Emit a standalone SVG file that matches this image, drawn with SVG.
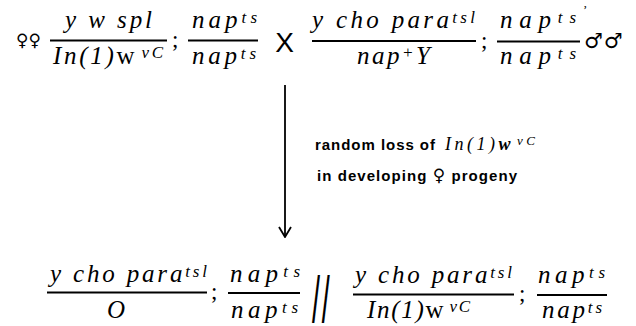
<svg xmlns="http://www.w3.org/2000/svg" width="636" height="326" viewBox="0 0 636 326">
<defs>
<style>
.it{font-family:"Liberation Serif",serif;font-style:italic;font-size:25px;fill:#000}
.rm{font-style:normal}
.sup{font-size:17px}
.fl{stroke:#000;stroke-width:1.8;fill:none}
.sym{font-family:"DejaVu Sans",sans-serif;font-size:17px;fill:#000}
.semi{font-family:"Liberation Serif",serif;font-size:23px;fill:#000}
.lab{font-family:"Liberation Sans","DejaVu Sans",sans-serif;font-weight:bold;font-size:15px;fill:#000}
.labi{font-family:"Liberation Serif",serif;font-style:italic;font-size:18px;fill:#000}
</style>
<marker id="ah" viewBox="0 0 12 14" refX="11" refY="7" markerWidth="12" markerHeight="14" markerUnits="userSpaceOnUse" orient="auto">
<path d="M1,1 L11,7 L1,13" fill="none" stroke="#000" stroke-width="1.8"/>
</marker>
</defs>
<rect width="636" height="326" fill="#fff"/>

<g id="female">
<text class="sym" x="16" y="46">♀♀</text>
<text class="it" x="65" y="28" textLength="87" lengthAdjust="spacing">y w spl</text>
<line class="fl" x1="50" y1="40.5" x2="167" y2="40.5"/>
<text class="it" x="53" y="64" textLength="110" lengthAdjust="spacing">In(1)<tspan class="rm">w</tspan><tspan class="sup" dx="4" dy="-6">vC</tspan></text>
<text class="semi" x="172" y="47">;</text>
<text class="it" x="192" y="28" textLength="65" lengthAdjust="spacing">nap<tspan class="sup" dy="-5">ts</tspan></text>
<line class="fl" x1="188" y1="40.5" x2="258" y2="40.5"/>
<text class="it" x="192" y="64" textLength="64" lengthAdjust="spacing">nap<tspan class="sup" dy="-5">ts</tspan></text>
</g>

<g id="cross">
<text x="284.5" y="52" text-anchor="middle" font-family="Liberation Sans,sans-serif" font-size="28" fill="#000">X</text>
</g>

<g id="male">
<text class="it" x="312" y="28" textLength="163" lengthAdjust="spacing">y cho para<tspan class="sup" dy="-5">tsl</tspan></text>
<line class="fl" x1="312" y1="41" x2="476" y2="41"/>
<text class="it" x="357" y="64" textLength="73" lengthAdjust="spacing">nap<tspan class="sup" dy="-6">+</tspan><tspan dy="6">Y</tspan></text>
<text class="semi" x="481" y="48">;</text>
<text class="it" x="500" y="28" textLength="76" lengthAdjust="spacing">nap<tspan class="sup" dy="-5">ts</tspan></text>
<line class="fl" x1="497" y1="41.5" x2="580" y2="41.5"/>
<text class="it" x="500" y="64" textLength="76" lengthAdjust="spacing">nap<tspan class="sup" dy="-5">ts</tspan></text>
<text class="semi" x="583" y="14" style="font-size:13px">’</text>
<text class="sym" x="584" y="48" style="font-size:21px" letter-spacing="1">♂♂</text>
</g>

<g id="connectors">
<line class="fl" x1="285" y1="85" x2="285" y2="237" marker-end="url(#ah)"/>
</g>

<g id="label">
<text class="lab" x="315" y="150" textLength="120" lengthAdjust="spacing">random loss of</text>
<text class="labi" x="445" y="150" textLength="90" lengthAdjust="spacing">In(1)<tspan font-weight="bold">w</tspan><tspan font-size="13" dx="3" dy="-5">vC</tspan></text>
<text class="lab" x="317" y="181" textLength="200" lengthAdjust="spacing">in developing <tspan font-family="DejaVu Sans,sans-serif" font-weight="normal" font-size="17">♀</tspan> progeny</text>
</g>

<g id="progeny">
<text class="it" x="50" y="282" textLength="157" lengthAdjust="spacing">y cho para<tspan class="sup" dy="-5">tsl</tspan></text>
<line class="fl" x1="47" y1="292.5" x2="207" y2="292.5"/>
<text class="it" x="116" y="318" text-anchor="middle">O</text>
<text class="semi" x="211" y="299">;</text>
<text class="it" x="230" y="282" textLength="70" lengthAdjust="spacing">nap<tspan class="sup" dy="-5">ts</tspan></text>
<line class="fl" x1="228" y1="293" x2="300" y2="293"/>
<text class="it" x="231" y="318" textLength="67" lengthAdjust="spacing">nap<tspan class="sup" dy="-5">ts</tspan></text>
<text x="0" y="0" font-family="Liberation Sans,sans-serif" font-size="64" letter-spacing="4" fill="#000" transform="translate(312,322) scale(0.45,1)">//</text>
<text class="it" x="355" y="283" textLength="157" lengthAdjust="spacing">y cho para<tspan class="sup" dy="-5">tsl</tspan></text>
<line class="fl" x1="353" y1="294.5" x2="514" y2="294.5"/>
<text class="it" x="367" y="318" textLength="103" lengthAdjust="spacing">In(1)<tspan class="rm">w</tspan><tspan class="sup" dx="4" dy="-6">vC</tspan></text>
<text class="semi" x="519" y="301">;</text>
<text class="it" x="538" y="283" textLength="67" lengthAdjust="spacing">nap<tspan class="sup" dy="-5">ts</tspan></text>
<line class="fl" x1="537" y1="295" x2="607" y2="295"/>
<text class="it" x="542" y="318" textLength="60" lengthAdjust="spacing">nap<tspan class="sup" dy="-5">ts</tspan></text>
</g>
</svg>
